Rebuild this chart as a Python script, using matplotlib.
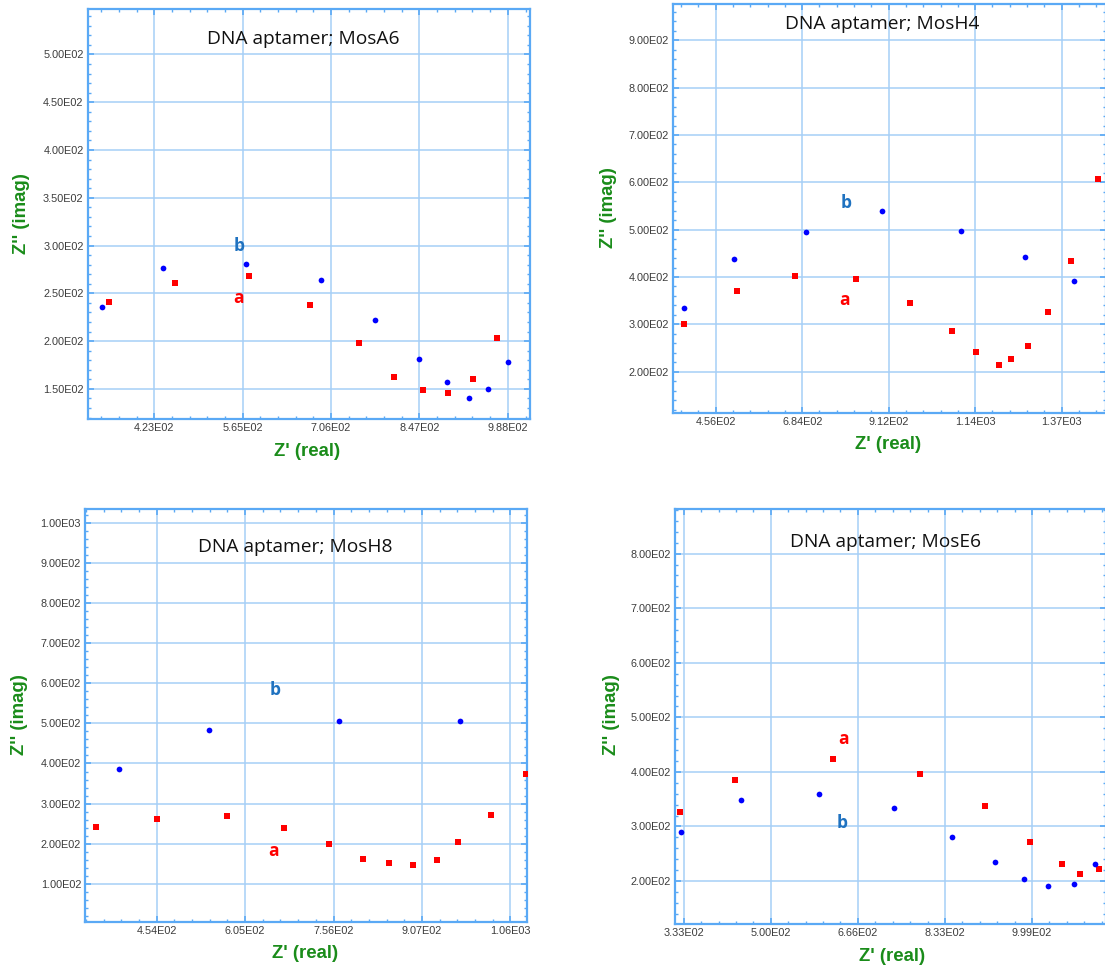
import matplotlib
matplotlib.use("Agg")
import matplotlib.pyplot as plt
from matplotlib.ticker import FixedLocator, FixedFormatter, AutoMinorLocator

W, H = 1105, 969

# ---- MosA6 ----
a6_titl = "DNA aptamer; MosA6"
a6_bx = [340, 438, 570, 690, 776, 847, 891, 926, 956, 989]
a6_by = [236, 277, 281, 264, 222, 181, 157, 140, 150, 178]
a6_ax = [352, 456, 575, 672, 751, 807, 853, 893, 933, 971]
a6_ay = [241, 261, 268, 238, 198, 162, 149, 146, 160, 203]
a6_xt = [423.4, 564.6, 705.8, 847.0, 988.2]
a6_xl = ["4.23E02", "5.65E02", "7.06E02", "8.47E02", "9.88E02"]
a6_yt = [150, 200, 250, 300, 350, 400, 450, 500]
a6_yl = ["1.50E02", "2.00E02", "2.50E02", "3.00E02", "3.50E02", "4.00E02", "4.50E02", "5.00E02"]

# ---- MosH4 ----
h4_titl = "DNA aptamer; MosH4"
h4_bx = [373, 505, 693, 894, 1102, 1272, 1400]
h4_by = [334, 437, 494, 539, 498, 442, 392]
h4_ax = [373, 511, 666, 827, 969, 1079, 1142, 1202, 1234, 1279, 1331, 1394, 1465]
h4_ay = [301, 370, 403, 396, 344, 285, 242, 214, 227, 255, 327, 434, 607]
h4_xt = [456, 684, 912, 1140, 1368]
h4_xl = ["4.56E02", "6.84E02", "9.12E02", "1.14E03", "1.37E03"]
h4_yt = [200, 300, 400, 500, 600, 700, 800, 900]
h4_yl = ["2.00E02", "3.00E02", "4.00E02", "5.00E02", "6.00E02", "7.00E02", "8.00E02", "9.00E02"]

# ---- MosH8 ----
h8_titl = "DNA aptamer; MosH8"
h8_bx = [389, 543, 766, 972]
h8_by = [386, 484, 505, 507]
h8_ax = [350, 455, 574, 671, 749, 806, 850, 892, 932, 969, 1025, 1084]
h8_ay = [242, 261, 270, 238, 198, 162, 151, 147, 160, 205, 272, 373]
h8_xt = [454, 605, 756, 907, 1058]
h8_xl = ["4.54E02", "6.05E02", "7.56E02", "9.07E02", "1.06E03"]
h8_yt = [100, 200, 300, 400, 500, 600, 700, 800, 900, 1000]
h8_yl = ["1.00E02", "2.00E02", "3.00E02", "4.00E02", "5.00E02", "6.00E02",
         "7.00E02", "8.00E02", "9.00E02", "1.00E03"]

# ---- MosE6 ----
e6_titl = "DNA aptamer; MosE6"
e6_bx = [328, 443, 592, 735, 846, 928, 983, 1030, 1080, 1120]
e6_by = [290, 349, 360, 334, 281, 234, 204, 190, 194, 231]
e6_ax = [326, 431, 618, 784, 909, 996, 1057, 1091, 1127]
e6_ay = [326, 386, 423, 397, 338, 272, 232, 212, 222]
e6_xt = [333, 499.5, 666, 832.5, 999]
e6_xl = ["3.33E02", "5.00E02", "6.66E02", "8.33E02", "9.99E02"]
e6_yt = [200, 300, 400, 500, 600, 700, 800]
e6_yl = ["2.00E02", "3.00E02", "4.00E02", "5.00E02", "6.00E02", "7.00E02", "8.00E02"]

panels = [
    # pixel box (L, R, T, B), xlim, ylim, title pos, xlabel px, ylabel px, b pos, a pos
    dict(box=(87.7, 529.5, 9, 419.3), xlim=(317.2, 1022.8), ylim=(118.2, 547.5),
         tpos=(0.489, 0.926), xlab=(307, 451.7), ylab=(22, 214),
         bpos=(559, 300), apos=(558, 245),
         bx=a6_bx, by=a6_by, ax_=a6_ax, ay=a6_ay, xt=a6_xt, xl=a6_xl, yt=a6_yt, yl=a6_yl, t=a6_titl),
    dict(box=(673, 1106, 4, 413.3), xlim=(343.3, 1485.2), ylim=(112, 976.7),
         tpos=(0.484, 0.951), xlab=(888, 445), ylab=(609, 208),
         bpos=(799, 556), apos=(795, 351),
         bx=h4_bx, by=h4_by, ax_=h4_ax, ay=h4_ay, xt=h4_xt, xl=h4_xl, yt=h4_yt, yl=h4_yl, t=h4_titl),
    dict(box=(85.2, 527.2, 509.3, 921.7), xlim=(331.8, 1086.8), ylim=(5.2, 1034.3),
         tpos=(0.475, 0.909), xlab=(305, 953), ylab=(19, 715),
         bpos=(656, 583), apos=(653, 182),
         bx=h8_bx, by=h8_by, ax_=h8_ax, ay=h8_ay, xt=h8_xt, xl=h8_xl, yt=h8_yt, yl=h8_yl, t=h8_titl),
    dict(box=(674.7, 1106, 509, 924.3), xlim=(315.7, 1140.5), ylim=(120.6, 881.9),
         tpos=(0.489, 0.920), xlab=(892, 956.5), ylab=(611, 715),
         bpos=(636, 307), apos=(638, 461),
         bx=e6_bx, by=e6_by, ax_=e6_ax, ay=e6_ay, xt=e6_xt, xl=e6_xl, yt=e6_yt, yl=e6_yl, t=e6_titl),
]

frame_col = "#5aa9f5"
grid_col = "#a6cff7"
green = "#1a8c1a"

fig = plt.figure(figsize=(W / 100, H / 100), dpi=100)

for p in panels:
    L, R, T, B = p["box"]
    ax = fig.add_axes([L / W, 1 - B / H, (R - L) / W, (B - T) / H])
    ax.set_xlim(*p["xlim"])
    ax.set_ylim(*p["ylim"])

    ax.scatter(p["ax_"], p["ay"], marker="s", s=20, color="#ff0000", zorder=3, linewidths=0)
    ax.scatter(p["bx"], p["by"], marker="o", s=17, color="#0000ff", zorder=3, linewidths=0)

    ax.xaxis.set_major_locator(FixedLocator(p["xt"]))
    ax.xaxis.set_major_formatter(FixedFormatter(p["xl"]))
    ax.yaxis.set_major_locator(FixedLocator(p["yt"]))
    ax.yaxis.set_major_formatter(FixedFormatter(p["yl"]))
    ax.xaxis.set_minor_locator(AutoMinorLocator(5))
    ax.yaxis.set_minor_locator(AutoMinorLocator(5))

    ax.grid(True, which="major", color=grid_col, lw=1.1, zorder=0)
    ax.set_axisbelow(True)
    for s in ax.spines.values():
        s.set_color(frame_col)
        s.set_linewidth(1.6)
    ax.tick_params(which="both", direction="in", top=True, right=True,
                   color=frame_col, labelcolor="#3c3c3c", labelsize=7.8,
                   labelfontfamily="Liberation Sans")
    ax.tick_params(which="major", length=4, width=1.2, pad=3)
    ax.tick_params(which="minor", length=2.5, width=1.0)

    ax.text(p["tpos"][0], p["tpos"][1], p["t"], transform=ax.transAxes,
            ha="center", va="center", fontsize=13.8, family="Open Sans", color="#111111")
    ax.text(p["bpos"][0], p["bpos"][1], "b", ha="center", va="center", fontsize=12.5,
            fontweight="bold", family="Open Sans", color="#1f72c0")
    ax.text(p["apos"][0], p["apos"][1], "a", ha="center", va="center", fontsize=12.5,
            fontweight="bold", family="Open Sans", color="#ff0000")

    ax.set_xlabel("Z' (real)", fontsize=13.4, fontweight="bold",
                  family="Liberation Sans", color=green, va="center")
    ax.set_ylabel("Z'' (imag)", fontsize=13.4, fontweight="bold",
                  family="Liberation Sans", color=green, va="center")
    ax.xaxis.set_label_coords((p["xlab"][0] - L) / (R - L), (B - p["xlab"][1]) / (B - T))
    ax.yaxis.set_label_coords((p["ylab"][0] - L) / (R - L), (B - p["ylab"][1]) / (B - T))

fig.savefig("out.png", dpi=100)
